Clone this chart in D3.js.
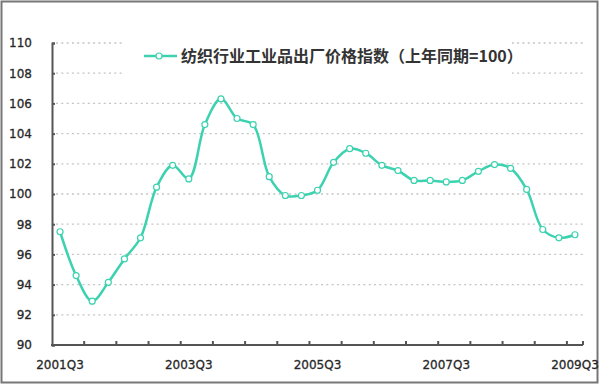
<!DOCTYPE html>
<html>
  <head>
    <meta charset="utf-8" />
    <script src="https://d3js.org/d3.v7.min.js"></script>
    <style>
      body { margin: 0; background: #fff; }
      #canvas { display: block; }
    </style>
  </head>
  <body>
    <svg id="canvas" width="600" height="385"></svg>
    <script>
      // quarters 2001Q3 .. 2009Q3
      let quarters = [
        "2001Q3", "2001Q4", "2002Q1", "2002Q2", "2002Q3", "2002Q4",
        "2003Q1", "2003Q2", "2003Q3", "2003Q4", "2004Q1", "2004Q2",
        "2004Q3", "2004Q4", "2005Q1", "2005Q2", "2005Q3", "2005Q4",
        "2006Q1", "2006Q2", "2006Q3", "2006Q4", "2007Q1", "2007Q2",
        "2007Q3", "2007Q4", "2008Q1", "2008Q2", "2008Q3", "2008Q4",
        "2009Q1", "2009Q2", "2009Q3"
      ];
      let priceIndex = [
        97.5, 94.6, 92.9, 94.15, 95.7, 97.1, 100.45, 101.9, 101.0, 104.6,
        106.3, 105.0, 104.6, 101.15, 99.9, 99.9, 100.25, 102.1, 103.0, 102.7,
        101.9, 101.55, 100.9, 100.9, 100.8, 100.9, 101.5, 101.95, 101.7, 100.3,
        97.65, 97.1, 97.3
      ];
      let xLabels = ["2001Q3", "2003Q3", "2005Q3", "2007Q3", "2009Q3"];
      let yTicks = [90, 92, 94, 96, 98, 100, 102, 104, 106, 108, 110];
      let seriesName = "纺织行业工业品出厂价格指数（上年同期=100）";

      let lineColor = "#3cd2b0";
      let svg = d3.select("#canvas");

      // outer frame
      svg.append("rect")
        .attr("x", 1.5).attr("y", 1.5)
        .attr("width", 596).attr("height", 381)
        .style("fill", "#fff")
        .style("stroke", "#777")
        .style("stroke-width", 2);

      let xScale = d3.scaleBand().domain(quarters).range([52, 583]).padding(0);
      let xMid = (q) => xScale(q) + xScale.bandwidth() / 2;
      let yScale = d3.scaleLinear().domain([90, 110]).range([345, 43]);

      // grid lines
      svg.append("g")
        .selectAll("line")
        .data(yTicks.filter((d) => d > 90))
        .enter()
        .append("line")
        .attr("x1", 56).attr("x2", 583)
        .attr("y1", (d) => yScale(d)).attr("y2", (d) => yScale(d))
        .style("stroke", "#c4c4c4")
        .style("stroke-width", 1.3)
        .style("stroke-dasharray", "2,3.3");

      // y axis
      let yAxis = d3.axisRight(yScale).tickValues(yTicks).tickSize(3).tickFormat(d3.format("d"));
      let yG = svg.append("g").attr("transform", "translate(52,0)").call(yAxis);
      yG.select(".domain").style("stroke", "#555").style("stroke-width", 2);
      yG.selectAll(".tick line").style("stroke", "#555").style("stroke-width", 2);
      yG.selectAll(".tick text")
        .attr("x", -20)
        .attr("text-anchor", "end")
        .style("font-family", "DejaVu Sans")
        .style("font-size", "12px")
        .style("stroke", "#333")
        .style("stroke-width", 0.3)
        .style("fill", "#222");

      // x axis: ticks every 2 quarters at band edges
      let edgeTicks = quarters.filter((q, i) => i % 2 == 0).map((q) => xScale(q));
      edgeTicks.push(583);
      let xLine = svg.append("g");
      xLine.append("line")
        .attr("x1", 51).attr("x2", 583)
        .attr("y1", 345).attr("y2", 345)
        .style("stroke", "#555").style("stroke-width", 2);
      xLine.selectAll(".xt")
        .data(edgeTicks.slice(1))
        .enter()
        .append("line")
        .attr("x1", (d) => d).attr("x2", (d) => d)
        .attr("y1", 345).attr("y2", 341)
        .style("stroke", "#555").style("stroke-width", 2);
      xLine.selectAll("text")
        .data(xLabels)
        .enter()
        .append("text")
        .attr("x", (d) => xMid(d))
        .attr("y", 369)
        .attr("text-anchor", "middle")
        .style("font-family", "DejaVu Sans")
        .style("font-size", "12px")
        .style("stroke", "#333")
        .style("stroke-width", 0.3)
        .style("fill", "#222")
        .text((d) => d);

      // line
      let data = quarters.map((q, i) => ({ q: q, v: priceIndex[i] }));
      let lineGenerator = d3.line()
        .x((d) => xMid(d.q))
        .y((d) => yScale(d.v))
        .curve(d3.curveCatmullRom.alpha(0.5));

      svg.append("path")
        .datum(data)
        .attr("d", lineGenerator)
        .style("fill", "none")
        .style("stroke", lineColor)
        .style("stroke-width", 2.5);

      svg.append("g")
        .selectAll("circle")
        .data(data)
        .enter()
        .append("circle")
        .attr("cx", (d) => xMid(d.q))
        .attr("cy", (d) => yScale(d.v))
        .attr("r", 3)
        .style("fill", "#fff")
        .style("stroke", lineColor)
        .style("stroke-width", 1.2);

      // legend
      let legend = svg.append("g");
      legend.append("rect")
        .attr("x", 124).attr("y", 34)
        .attr("width", 388).attr("height", 46)
        .style("fill", "#fff");
      legend.append("line")
        .attr("x1", 144).attr("x2", 177)
        .attr("y1", 56).attr("y2", 56)
        .style("stroke", lineColor).style("stroke-width", 2.5);
      legend.append("circle")
        .attr("cx", 159).attr("cy", 56).attr("r", 3)
        .style("fill", "#fff").style("stroke", lineColor).style("stroke-width", 1.2);
      legend.append("text")
        .attr("x", 181).attr("y", 62)
        .style("font-family", "Noto Sans CJK SC")
        .style("font-size", "16px")
        .style("font-weight", "bold")
        .style("fill", "#333")
        .text(seriesName);
    </script>
  </body>
</html>
